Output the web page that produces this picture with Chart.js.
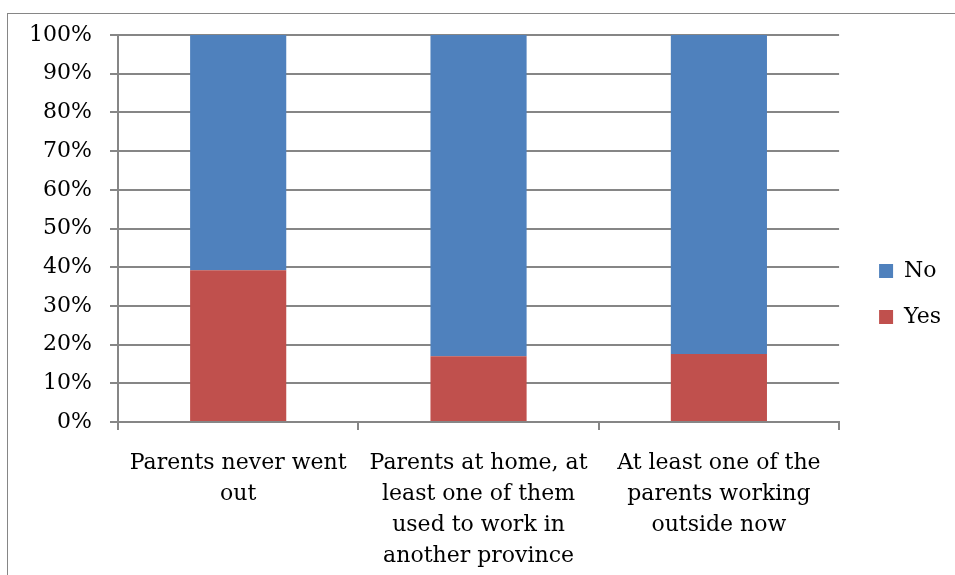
<!DOCTYPE html>
<html>
<head>
<meta charset="utf-8">
<script src="https://cdn.jsdelivr.net/npm/chart.js@4"></script>
<style>
  html, body { margin: 0; padding: 0; background: #fff; }
  #wrap { position: relative; width: 955px; height: 575px; }
  #frame { position: absolute; left: 7px; top: 13px; right: 0; bottom: 0;
           border-left: 1px solid #868686; border-top: 1px solid #868686; }
  canvas { position: absolute; left: 0; top: 0; }
</style>
</head>
<body>
<div id="wrap">
  <div id="frame"></div>
  <canvas id="myChart" width="955" height="575"></canvas>
</div>
<script>
// Datos de la gráfica
const grupos = [
  ['Parents never went', 'out'],
  ['Parents at home, at', 'least one of them', 'used to work in', 'another province'],
  ['At least one of the', 'parents working', 'outside now']
];
const valoresYes = [39.2, 17.0, 17.6];
const valoresNo = [60.8, 83.0, 82.4];
const ticksY = [0, 10, 20, 30, 40, 50, 60, 70, 80, 90, 100];

const fuente = 'DejaVu Serif';
const gris = '#868686';

// desplaza la leyenda un poco a la derecha y hacia arriba
const moverLeyenda = {
  id: 'moverLeyenda',
  afterLayout(chart) {
    const lg = chart.legend;
    lg.left += 16;
    lg.right += 16;
    lg.top -= 11;
    lg.bottom -= 11;
  }
};

const ctx = document.getElementById('myChart').getContext('2d');
const myChart = new Chart(ctx, {
  type: 'bar',
  data: {
    labels: grupos,
    datasets: [{
      label: 'Yes',
      data: valoresYes,
      backgroundColor: '#C0504D'
    }, {
      label: 'No',
      data: valoresNo,
      backgroundColor: '#4F81BD'
    }]
  },
  options: {
    responsive: false,
    animation: false,
    layout: { padding: { top: 35, right: 20, bottom: 0, left: 0 } },
    datasets: { bar: { categoryPercentage: 1, barPercentage: 0.4 } },
    scales: {
      x: {
        stacked: true,
        offset: true,
        grid: { offset: true, drawOnChartArea: false, color: gris, lineWidth: 2, tickLength: 8 },
        border: { color: gris, width: 2 },
        ticks: { color: '#000', font: { family: fuente, size: 22, lineHeight: 1.4 }, maxRotation: 0, padding: 18 },
        afterFit: (scale) => { scale.height = 153; }
      },
      y: {
        stacked: true,
        min: 0,
        max: 100,
        afterBuildTicks: (scale) => { scale.ticks = ticksY.map(v => ({ value: v })); },
        grid: { color: gris, lineWidth: 2, tickLength: 8 },
        border: { color: gris, width: 2 },
        ticks: { color: '#000', font: { family: fuente, size: 22 }, padding: 18,
                 callback: (v) => v + '%' },
        afterFit: (scale) => { scale.width = 118; }
      }
    },
    plugins: {
      legend: {
        position: 'right',
        reverse: true,
        labels: { color: '#000', font: { family: fuente, size: 22 }, boxWidth: 14, boxHeight: 14, padding: 24 }
      },
      tooltip: { enabled: false }
    }
  },
  plugins: [moverLeyenda]
});
</script>
</body>
</html>
